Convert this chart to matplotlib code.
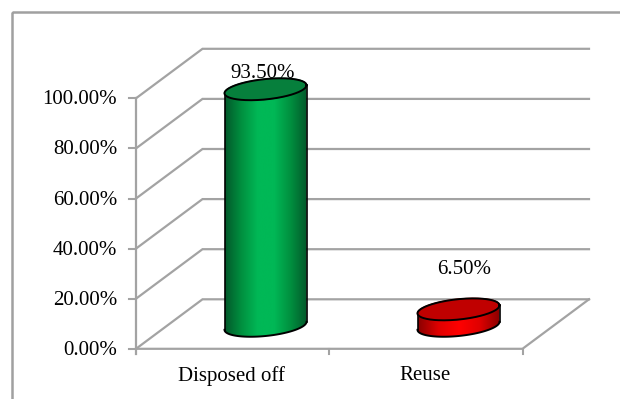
import numpy as np
import matplotlib
matplotlib.use("Agg")
import matplotlib.pyplot as plt
from matplotlib.patches import Polygon, Rectangle
from matplotlib.colors import LinearSegmentedColormap

categories = ["Disposed off", "Reuse"]
values = [93.50, 6.50]
value_labels = ["93.50%", "6.50%"]
y_ticks = [0, 20, 40, 60, 80, 100]
y_labels = ["0.00%", "20.00%", "40.00%", "60.00%", "80.00%", "100.00%"]

plt.rcParams["font.family"] = ["Liberation Serif", "DejaVu Serif"]
W, H = 620, 399
fig = plt.figure(figsize=(W / 100, H / 100), dpi=100)
ax = fig.add_axes([0, 0, 1, 1])
ax.set_xlim(0, W)
ax.set_ylim(H, 0)
ax.axis("off")

GRID = "#a3a3a3"
FS = 15
# outer chart frame
ax.add_patch(Rectangle((12, 12), 700, 500, fill=False, ec="#a0a0a0", lw=1.8))

# projection of the 3D box
X0, X1 = 136, 522.5
Y0, PX100 = 348.8, 250.5
DX, DY = 66.5, -49.5
BAR_SCALE = 2.53


def yval(v):
    return Y0 - v / 100 * PX100


for t, lab in zip(y_ticks, y_labels):
    y = yval(t)
    ax.plot([X0, X0 + DX, X1 + DX], [y, y + DY, y + DY], color=GRID, lw=1.6,
            solid_joinstyle="miter")
    ax.plot([X0 - 7, X0], [y, y], color=GRID, lw=1.5)
    ax.text(117, y + 1.5, lab, ha="right", va="center", fontsize=FS, color="black")
ax.plot([X0, X0], [yval(100), Y0 + 5], color=GRID, lw=1.6)
ax.plot([X0, X1, X1 + DX], [Y0, Y0, Y0 + DY], color=GRID, lw=1.6)
for x in ((X0 + X1) / 2, X1):
    ax.plot([x, x], [Y0, Y0 + 5], color=GRID, lw=1.5)

green = LinearSegmentedColormap.from_list(
    "g", ["#03592b", "#00903f", "#00b856", "#00b856", "#00903f", "#03592b"])
red = LinearSegmentedColormap.from_list(
    "r", ["#8a0000", "#e00000", "#ff0000", "#e00000", "#8a0000"])


def cylinder(cx, base_y, value, cmap, top_color):
    """Slanted elliptical cylinder rising from the chart floor."""
    half_w, half_h, slope = 41, 10.2, -4
    top_y = base_y - value * BAR_SCALE
    ts = np.linspace(0, 2 * np.pi, 200)
    rx = half_w * np.cos(ts)
    ry = half_h * np.sin(ts) + slope * np.cos(ts)
    lower = np.linspace(0, np.pi, 100)
    bx = cx + half_w * np.cos(lower)
    by = base_y + half_h * np.sin(lower) + slope * np.cos(lower)
    outline = np.column_stack([np.r_[bx, cx - half_w, cx + half_w],
                               np.r_[by, top_y - slope, top_y + slope]])
    body = Polygon(outline, closed=True, fc="none", ec="none")
    ax.add_patch(body)
    img = ax.imshow(np.linspace(0, 1, 256)[None, :], cmap=cmap, aspect="auto",
                    extent=[cx - half_w, cx + half_w, base_y + 20, top_y - 20], zorder=2)
    img.set_clip_path(body)
    ax.plot(bx, by, color="black", lw=1.4, zorder=3)
    ax.plot([cx - half_w] * 2, [base_y - slope, top_y - slope], color="black", lw=1.2, zorder=3)
    ax.plot([cx + half_w] * 2, [base_y + slope, top_y + slope], color="black", lw=1.2, zorder=3)
    ax.fill(cx + rx, top_y + ry, color=top_color, zorder=4)
    ax.plot(cx + rx, top_y + ry, color="black", lw=1.4, zorder=5)


cylinder(265.5, 325.8, values[0], green, "#067f3c")
cylinder(458.5, 325.8, values[1], red, "#c00000")
ax.set_xlim(0, W)
ax.set_ylim(H, 0)

ax.text(263, 73, value_labels[0], ha="center", va="center", fontsize=FS)
ax.text(464, 269, value_labels[1], ha="center", va="center", fontsize=FS)
ax.text(232, 376, categories[0], ha="center", va="center", fontsize=FS)
ax.text(425, 376, categories[1], ha="center", va="center", fontsize=FS)

fig.savefig("out.png", dpi=100)
